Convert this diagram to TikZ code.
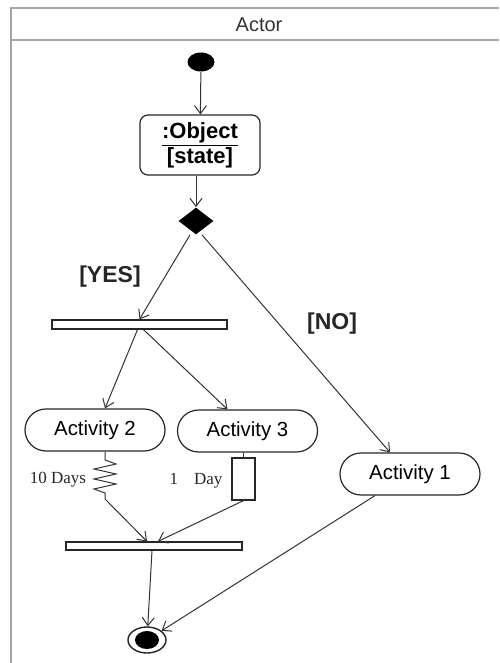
\documentclass[tikz,border=0pt]{standalone}
\usepackage{fontspec}
\setmainfont{Liberation Sans}
\newfontfamily\tmsfont{Liberation Serif}
\usetikzlibrary{arrows.meta,shapes.geometric,shapes.misc}
\begin{document}
\begin{tikzpicture}[x=0.5pt,y=-0.5pt,
  flow/.style={draw=black!80,line width=0.5pt,-{Straight Barb[length=4pt,width=6pt]}},
  plain/.style={draw=black!80,line width=0.5pt},
  act/.style={draw=black!85,line width=0.6pt,rounded rectangle,minimum width=70pt,minimum height=21pt,inner sep=0pt,font=\fontsize{10.2}{12}\selectfont},
  bar/.style={draw=black!85,line width=0.6pt,fill=white,rectangle,inner sep=0pt},
  guard/.style={font=\fontsize{11.5}{13}\selectfont\bfseries\color{black!85}},
  delay/.style={font=\fontsize{8.5}{10}\selectfont\tmsfont\color{black!85}}
]
\useasboundingbox (0,0) rectangle (499,663);
% swimlane frame
\draw[gray!70,line width=0.9pt] (499,8) -- (11,8) -- (11,663);
\draw[gray!70,line width=0.9pt] (11,40) -- (499,40);
\node[font=\fontsize{10}{12}\selectfont,text=black!80] (actor) at (259,25) {Actor};
% nodes
\node[ellipse,fill=black,minimum width=13.5pt,minimum height=9.5pt,inner sep=0pt] (init) at (201,62) {};
\node[draw=black!85,line width=0.6pt,rounded corners=4pt,minimum width=60pt,minimum height=30pt,align=center,inner sep=1pt,font=\fontsize{11}{12.5}\selectfont\bfseries] (obj) at (200,145) {\underline{:Object}\\{}[state]};
\node[diamond,fill=black,minimum width=17.5pt,minimum height=13.5pt,inner sep=0pt] (dec) at (196,221) {};
\node[bar,minimum width=87.5pt,minimum height=4.5pt] (fork) at (139.5,324.5) {};
\node[act] (a2) at (95,430) {Activity 2};
\node[act] (a3) at (247.5,431) {Activity 3};
\node[act] (a1) at (410,474) {Activity 1};
\node[draw=black!85,line width=0.6pt,minimum width=11.5pt,minimum height=21pt,inner sep=0pt] (timer) at (243.5,479) {};
\node[bar,minimum width=88pt,minimum height=4pt] (join) at (154,546) {};
\node[ellipse,draw=black!85,line width=0.7pt,minimum width=19pt,minimum height=13pt,inner sep=0pt] (final) at (147,640) {};
\node[ellipse,fill=black,minimum width=12pt,minimum height=9pt,inner sep=0pt] (finalin) at (147,640) {};
% labels
\node[guard] (yes) at (110,277) {[YES]};
\node[guard] (no) at (332,324) {[NO]};
\node[delay] (d10) at (58,480) {10 Days};
\node[delay] (d1) at (196,481) {1\hspace{8pt}Day};
% connectors
\draw[flow] (init) -- (obj);
\draw[flow] (obj.south -| dec.north) -- (dec.north);
\draw[flow] ([xshift=-3pt]dec.south) -- (fork.north);
\draw[flow] ([xshift=3pt]dec.south) -- ([xshift=-10pt]a1.north);
\draw[flow] ([xshift=-1pt]fork.south) -- ([xshift=5pt]a2.north);
\draw[flow] ([xshift=2pt]fork.south) -- ([xshift=-10pt]a3.north);
% zigzag (10 days)
\coordinate (z2) at (105,499);
\draw[plain] ([xshift=5pt]a2.south) -- (105,460) -- (116,464) -- (94,469) -- (116,474) -- (94,479) -- (116,484) -- (94,489) -- (105,493) -- (z2);
\draw[flow] (z2) -- ([xshift=-3.5pt]join.north);
% timer (1 day)
\draw[plain] (a3.south -| timer.north) -- (timer.north);
\draw[flow] (timer.south) -- ([xshift=2pt]join.north);
% to final
\draw[flow] ([xshift=-1pt]join.south) -- (final);
\draw[flow] ([xshift=-17.5pt]a1.south) -- (final);
\end{tikzpicture}
\end{document}
